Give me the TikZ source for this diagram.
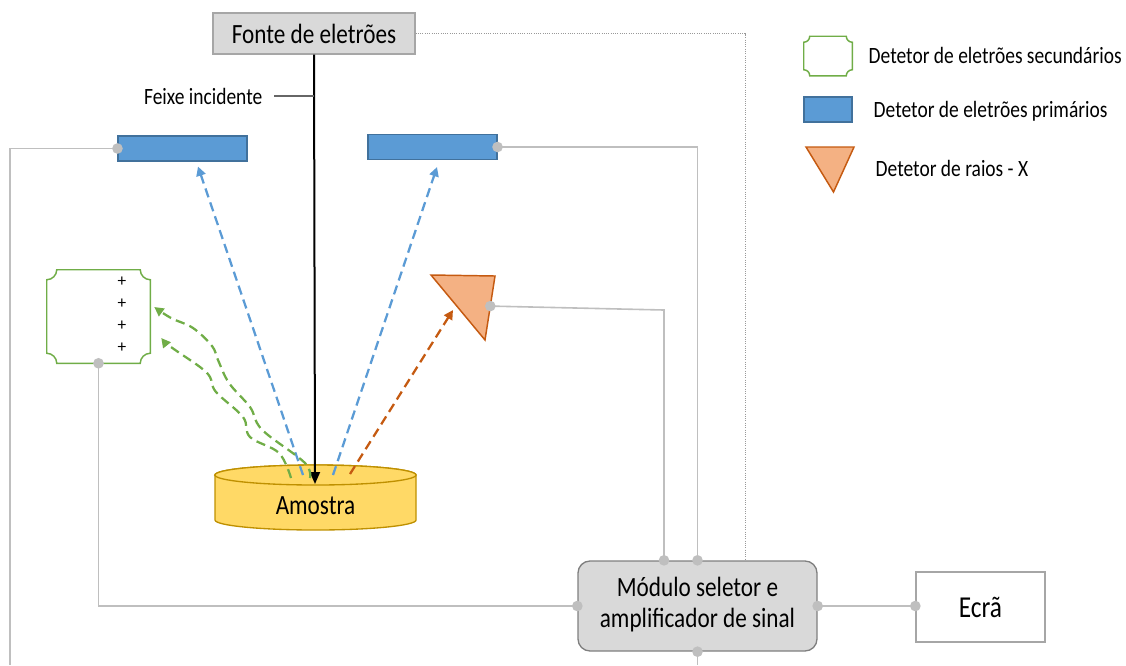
\documentclass[tikz,border=0pt]{standalone}
\usepackage{fontspec}
\setmainfont{Carlito}
\usepackage{graphicx}
\usetikzlibrary{arrows.meta,calc,positioning}
\definecolor{wiregray}{HTML}{BFBFBF}
\definecolor{boxgray}{HTML}{D9D9D9}
\definecolor{boxline}{HTML}{A6A6A6}
\definecolor{modline}{HTML}{7F7F7F}
\definecolor{primfill}{HTML}{5B9BD5}
\definecolor{primline}{HTML}{41719C}
\definecolor{secgreen}{HTML}{70AD47}
\definecolor{xfill}{HTML}{F4B183}
\definecolor{xline}{HTML}{C55A11}
\definecolor{sampfill}{HTML}{FFD966}
\definecolor{sampline}{HTML}{BF9000}
\newcommand\tall[1]{\scalebox{1}[1.2]{#1}}
% concave-corner box drawn round a node
\newcommand\plaque[3][]{%
  \draw[#1] ($(#2.north west)+(0,-#3)$) arc[start angle=270,end angle=360,radius=#3]
    -- ($(#2.north east)+(-#3,0)$) arc[start angle=180,end angle=270,radius=#3]
    -- ($(#2.south east)+(0,#3)$) arc[start angle=90,end angle=180,radius=#3]
    -- ($(#2.south west)+(#3,0)$) arc[start angle=0,end angle=90,radius=#3] -- cycle;}
\tikzset{>={Triangle[length=7pt,width=7pt]}}
\tikzset{
  wire/.style={draw=wiregray,line width=1.2pt},
  dot/.style={circle,fill=wiregray,inner sep=0pt,minimum size=8pt},
  graybox/.style={draw=boxline,fill=boxgray,line width=1pt,inner sep=0pt},
  primdet/.style={draw=primline,fill=primfill,line width=0.8pt,minimum width=96.75pt,minimum height=18.75pt,inner sep=0pt},
  secstyle/.style={draw=secgreen,fill=white,line width=1.1pt},
  xstyle/.style={draw=xline,fill=xfill,line width=1.1pt,line join=miter},
  sample/.style={draw=sampline,fill=sampfill,line width=1pt},
  ray/.style={->,line width=1.7pt,dash pattern=on 7pt off 4pt},
  legtext/.style={anchor=west,font=\fontsize{14.6}{17}\selectfont},
  bigtext/.style={font=\fontsize{17.4}{19}\selectfont}
}
\begin{document}
\begin{tikzpicture}[x=0.75pt,y=-0.75pt]
\useasboundingbox (0,0) rectangle (1126,665);
% source, beam and sample
\node[graybox,bigtext,minimum width=151.5pt,minimum height=30.75pt] (fonte) at (314,33.5) {\tall{Fonte de eletrões}};
\node[anchor=east,font=\fontsize{14.6}{17}\selectfont] (feixe) at (267,96) {\tall{Feixe incidente}};
\draw[sample] (215,475) -- (215,520) arc[start angle=180,end angle=360,x radius=75.4pt,y radius=7.5pt]
  -- (416,475) arc[start angle=0,end angle=180,x radius=75.4pt,y radius=7.5pt] -- cycle;
\coordinate (samptop) at (315.5,475);
\draw[sample] (samptop) ellipse[x radius=75.4pt,y radius=7.5pt];
\node[bigtext] (amostra) at (315.5,506) {\tall{Amostra}};
\coordinate (beamend) at (315,484);
% detectors
\node[primdet] (leftdet) at (182.5,148.5) {};
\node[primdet] (rightdet) at (432.5,147) {};
\node[minimum width=77.25pt,minimum height=69.75pt,inner sep=0pt] (secdet) at (98.5,316.5) {};
\plaque[secstyle]{secdet}{7.5pt}
\foreach \yy in {282,304,326,348}
  \node[font=\fontsize{13}{14}\selectfont,inner sep=0pt] (plus\yy) at (122,\yy) {+};
\coordinate (xa) at (431,275);
\coordinate (xb) at (495,276);
\coordinate (xc) at (485,340);
\draw[xstyle] (xa) -- (xb) -- (xc) -- cycle;
\coordinate (xport) at ($(xb)!0.47!(xc)$);
% module and screen
\node[draw=modline,fill=boxgray,line width=1pt,rounded corners=9pt,minimum width=179.25pt,minimum height=67.5pt,bigtext] (mod) at (697.5,606)
  {\tall{\begin{tabular}{@{}c@{}}Módulo seletor e\\amplificador de sinal\end{tabular}}};
\node[draw=boxline,fill=white,line width=1pt,minimum width=96.75pt,minimum height=52.5pt,font=\fontsize{19}{21}\selectfont] (ecra) at (980.5,607) {\tall{Ecrã}};
% rays
\draw[line width=1.5pt,->,>={Triangle[length=9pt,width=7.5pt]}] (fonte.south) -- (beamend);
\draw[gray!80!black,line width=0.8pt] ($(feixe.east)+(7,0)$) -- (feixe.east -| fonte.south);
\draw[ray,primfill] ($(samptop)+(-12.5,0)$) -- ($(leftdet.south)+(15.5,5)$);
\draw[ray,primfill] ($(samptop)+(17.5,0)$) -- ($(rightdet.south)+(4.5,7)$);
\draw[ray,xline] ($(samptop)+(34.5,-1)$) -- (453,310);
\coordinate (gs1) at (310,478);
\coordinate (ge1) at ($(secdet.east)+(4,-9.5)$);
\coordinate (gs2) at (291,478);
\coordinate (ge2) at ($(secdet.east)+(11,21.5)$);
\draw[ray,secgreen] plot[smooth,tension=0.6] coordinates {(gs1) (305,463) (268,435) (257,423) (250,407) (229,383) (218,360) (212,346) (193,328) (171,318) (ge1)};
\draw[ray,secgreen] plot[smooth,tension=0.6] coordinates {(gs2) (279,453) (250,437) (243,417) (216,392) (210,377) (200,367) (171,347) (ge2)};
% wires
\coordinate (leftfree) at (10,665);
\coordinate (modfree) at (697.5,665);
\coordinate (xbend) at (664,310);
\coordinate (modin1) at ($(mod.north)+(-33.5,0)$);
\coordinate (modin3) at ($(mod.north)+(47.5,0)$);
\draw[wire] (leftdet.west) -| (leftfree);
\draw[wire] (rightdet.east) -| (mod.north);
\draw[wire] (xport) -- (xbend) -- (modin1);
\draw[wire] (secdet.south) |- (mod.west);
\draw[wire] (mod.east) -- (mod.east -| ecra.west);
\draw[wire] (mod.south) -- (modfree);
\draw[wiregray!80!black,line width=0.7pt,densely dotted] (fonte.east) -| (modin3);
\foreach \pt in {leftdet.west,rightdet.east,xport,secdet.south,modin1,mod.north,mod.west,mod.east,mod.south}
  \node[dot] at (\pt) {};
\node[dot] at (mod.east -| ecra.west) {};
% legend
\node[minimum width=36pt,minimum height=29.25pt,inner sep=0pt] (legsec) at (828,56) {};
\plaque[secstyle]{legsec}{4.5pt}
\node[primdet,minimum width=36pt] (legprim) at (828,109.5) {};
\coordinate (lxa) at (806,147);
\coordinate (lxb) at (854,147);
\coordinate (lxc) at (833.5,192);
\draw[xstyle] (lxa) -- (lxb) -- (lxc) -- cycle;
\node[legtext] (legsectext) at (864,55) {\tall{Detetor de eletrões secundários}};
\node[legtext] (legprimtext) at (869,111) {\tall{Detetor de eletrões primários}};
\node[legtext] (legxtext) at (871,168) {\tall{Detetor de raios - X}};
\end{tikzpicture}
\end{document}
